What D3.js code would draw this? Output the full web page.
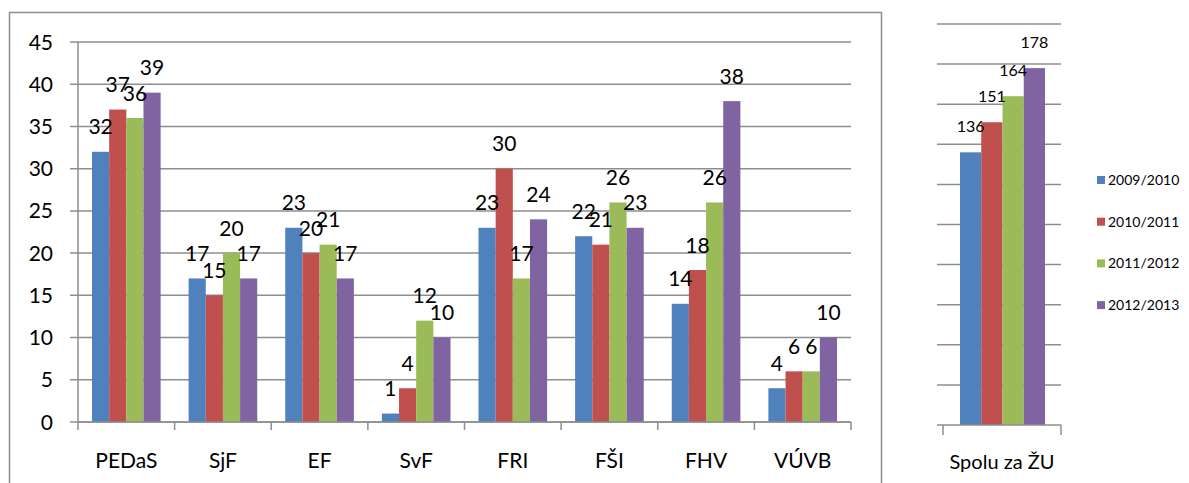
<!DOCTYPE html>
<html>
<head>
<meta charset="utf-8">
<script src="https://cdn.jsdelivr.net/npm/d3@7"></script>
<style>
  body { margin: 0; background: #fff; }
  text { font-family: Lato, "Open Sans", sans-serif; fill: #000; }
</style>
</head>
<body>
<div id="chart"></div>
<script>
// faculties and seasons
var faculties = ['PEDaS', 'SjF', 'EF', 'SvF', 'FRI', 'FŠI', 'FHV', 'VÚVB'];
var seasons = ['2009/2010', '2010/2011', '2011/2012', '2012/2013'];
var colors = ['#4F81BD', '#C0504D', '#9BBB59', '#8064A2'];

var s2009 = [32, 17, 23, 1, 23, 22, 14, 4];
var s2010 = [37, 15, 20, 4, 30, 21, 18, 6];
var s2011 = [36, 20, 21, 12, 17, 26, 26, 6];
var s2012 = [39, 17, 17, 10, 24, 23, 38, 10];

var totalLabel = ['Spolu za ŽU'];
var totals = [136, 151, 164, 178];

var yTicks = [0, 5, 10, 15, 20, 25, 30, 35, 40, 45];
var yTicksTotal = [0, 20, 40, 60, 80, 100, 120, 140, 160, 180, 200];

var W = 1189, H = 483;
var gridCol = '#8e8e8e';

var svg = d3.select('#chart').append('svg')
    .attr('width', W).attr('height', H);

// outer frame of the left chart
svg.append('rect')
    .attr('x', 9.5).attr('y', 12.5)
    .attr('width', 872).attr('height', 500)
    .attr('fill', 'none').attr('stroke', gridCol).attr('stroke-width', 1.5);

var series = [s2009, s2010, s2011, s2012];
var rows = faculties.map(function(f, i) {
    return { cat: f, vals: series.map(function(s) { return s[i]; }) };
});

// ---- left chart ----
var x0 = d3.scaleBand().domain(faculties).range([78, 851]);
var x1 = d3.scaleBand().domain(seasons).range([14, x0.bandwidth() - 14]);
var y = d3.scaleLinear().domain([0, 45]).range([422, 42]);

var left = svg.append('g').attr('class', 'left');

left.selectAll('line.grid')
    .data(yTicks).enter().append('line')
    .attr('class', 'grid')
    .attr('x1', 70).attr('x2', 851)
    .attr('y1', function(d) { return y(d); })
    .attr('y2', function(d) { return y(d); })
    .attr('stroke', gridCol).attr('stroke-width', 1.5);

left.selectAll('text.ytick')
    .data(yTicks).enter().append('text')
    .attr('class', 'ytick')
    .attr('x', 53).attr('y', function(d) { return y(d); })
    .attr('dy', '0.36em')
    .attr('text-anchor', 'end')
    .attr('font-size', 21)
    .text(function(d) { return d; });

// y axis line
left.append('line')
    .attr('x1', 78).attr('x2', 78).attr('y1', y(45)).attr('y2', y(0))
    .attr('stroke', gridCol).attr('stroke-width', 1.5);

var groups = left.selectAll('g.group')
    .data(rows).enter().append('g')
    .attr('class', 'group')
    .attr('transform', function(d) { return 'translate(' + x0(d.cat) + ',0)'; });

groups.selectAll('rect')
    .data(function(d) { return d.vals; })
    .enter().append('rect')
    .attr('x', function(d, i) { return x1(seasons[i]); })
    .attr('y', function(d) { return y(d); })
    .attr('width', x1.bandwidth())
    .attr('height', function(d) { return y(0) - y(d); })
    .attr('fill', function(d, i) { return colors[i]; });

groups.selectAll('text')
    .data(function(d) { return d.vals; })
    .enter().append('text')
    .attr('x', function(d, i) { return x1(seasons[i]) + x1.bandwidth() / 2; })
    .attr('y', function(d) { return y(d) - 25; })
    .attr('dy', '0.36em')
    .attr('text-anchor', 'middle')
    .attr('font-size', 21)
    .text(function(d) { return d; });

// x axis
left.append('line')
    .attr('x1', 78).attr('x2', 851).attr('y1', y(0)).attr('y2', y(0))
    .attr('stroke', gridCol).attr('stroke-width', 1.5);

var xTickPos = faculties.map(function(f) { return x0(f); }).concat([851]);
left.selectAll('line.xtick')
    .data(xTickPos).enter().append('line')
    .attr('class', 'xtick')
    .attr('x1', function(d) { return d; }).attr('x2', function(d) { return d; })
    .attr('y1', y(0)).attr('y2', y(0) + 8)
    .attr('stroke', gridCol).attr('stroke-width', 1.5);

left.selectAll('text.xlab')
    .data(faculties).enter().append('text')
    .attr('class', 'xlab')
    .attr('x', function(d) { return x0(d) + x0.bandwidth() / 2; })
    .attr('y', 468)
    .attr('text-anchor', 'middle')
    .attr('font-size', 21)
    .text(function(d) { return d; });

// ---- right chart (totals) ----
var xr0 = d3.scaleBand().domain(totalLabel).range([943, 1061]);
var xr1 = d3.scaleBand().domain(seasons).range([17, xr0.bandwidth() - 16]);
var yr = d3.scaleLinear().domain([0, 200]).range([425, 24]);

var right = svg.append('g').attr('class', 'right');

right.selectAll('line.grid')
    .data(yTicksTotal.slice(1)).enter().append('line')
    .attr('class', 'grid')
    .attr('x1', 937).attr('x2', 1061)
    .attr('y1', function(d) { return yr(d); })
    .attr('y2', function(d) { return yr(d); })
    .attr('stroke', gridCol).attr('stroke-width', 1.5);

right.selectAll('rect')
    .data(totals).enter().append('rect')
    .attr('x', function(d, i) { return xr0(totalLabel[0]) + xr1(seasons[i]); })
    .attr('y', function(d) { return yr(d); })
    .attr('width', xr1.bandwidth())
    .attr('height', function(d) { return yr(0) - yr(d); })
    .attr('fill', function(d, i) { return colors[i]; });

right.selectAll('text.val')
    .data(totals).enter().append('text')
    .attr('class', 'val')
    .attr('x', function(d, i) { return xr0(totalLabel[0]) + xr1(seasons[i]) + xr1.bandwidth() / 2; })
    .attr('y', function(d) { return yr(d) - 26; })
    .attr('dy', '0.36em')
    .attr('text-anchor', 'middle')
    .attr('font-size', 16)
    .text(function(d) { return d; });

right.append('line')
    .attr('x1', 937).attr('x2', 1061).attr('y1', yr(0)).attr('y2', yr(0))
    .attr('stroke', gridCol).attr('stroke-width', 1.5);

right.selectAll('line.xtick')
    .data([943, 1061]).enter().append('line')
    .attr('class', 'xtick')
    .attr('x1', function(d) { return d; }).attr('x2', function(d) { return d; })
    .attr('y1', yr(0)).attr('y2', yr(0) + 10)
    .attr('stroke', gridCol).attr('stroke-width', 1.5);

right.append('text')
    .attr('x', 1002).attr('y', 469)
    .attr('text-anchor', 'middle')
    .attr('font-size', 20)
    .text(totalLabel[0]);

// legend
var legend = svg.append('g').attr('class', 'legend')
    .selectAll('g').data(seasons).enter().append('g')
    .attr('transform', function(d, i) { return 'translate(1097,' + (180 + i * 41.7) + ')'; });

legend.append('rect')
    .attr('x', 0).attr('y', -4).attr('width', 8).attr('height', 8)
    .attr('fill', function(d, i) { return colors[i]; });

legend.append('text')
    .attr('x', 11).attr('y', 0).attr('dy', '0.36em')
    .attr('font-size', 14)
    .text(function(d) { return d; });
</script>
</body>
</html>
